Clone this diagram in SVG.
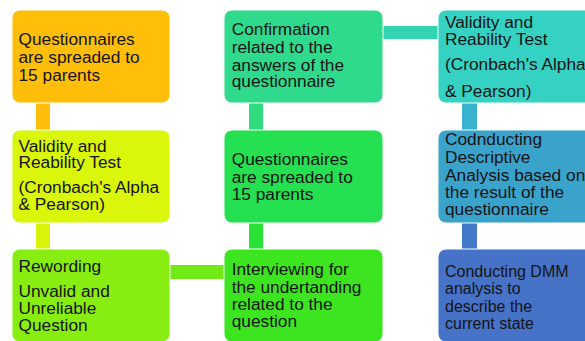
<svg xmlns="http://www.w3.org/2000/svg" width="585" height="341" viewBox="0 0 585 341">
<style>
.box{stroke:#f4fff4;stroke-width:1}
text{font-family:"Liberation Sans",Arial,sans-serif;font-size:17.3px;fill:#141414}
</style>
<rect width="585" height="341" fill="#ffffff"/>
<g id="connectors">
<rect x="36" y="102" width="14" height="29" fill="#FDBE0C"/>
<rect x="36" y="222" width="14" height="28" fill="#D9F40A"/>
<rect x="170" y="265" width="54" height="14" fill="#72EA16"/>
<rect x="249" y="102" width="14" height="29" fill="#30DC7E"/>
<rect x="249" y="222" width="14" height="28" fill="#2BE236"/>
<rect x="383" y="26" width="56" height="13" fill="#33D4B2"/>
<rect x="462" y="102" width="15" height="29" fill="#39B2CF"/>
<rect x="462" y="222" width="15" height="28" fill="#4479CA"/>
</g>
<g id="n1">
<rect class="box" x="12" y="10" width="158" height="93" rx="8" fill="#FEBE0A"/>
<text x="18.5" y="44.5">Questionnaires</text>
<text x="18.5" y="62.7">are spreaded to</text>
<text x="18.5" y="80.8">15 parents</text>
</g>
<g id="n2">
<rect class="box" x="12" y="130" width="158" height="93" rx="8" fill="#DAF60A"/>
<text x="18.5" y="151.7">Validity and</text>
<text x="18.5" y="168.3">Reability Test</text>
<text x="18.5" y="193.3">(Cronbach's Alpha</text>
<text x="18.5" y="210">&amp; Pearson)</text>
</g>
<g id="n3">
<rect class="box" x="12" y="249" width="158" height="93" rx="8" fill="#88EE12"/>
<text x="18.5" y="271.7">Rewording</text>
<text x="18.5" y="296.7">Unvalid and</text>
<text x="18.5" y="314.3">Unreliable</text>
<text x="18.5" y="331">Question</text>
</g>
<g id="n4">
<rect class="box" x="224" y="10" width="159" height="93" rx="8" fill="#30DA8C"/>
<text x="231.7" y="35">Confirmation</text>
<text x="231.7" y="52.7">related to the</text>
<text x="231.7" y="70.7">answers of the</text>
<text x="231.7" y="87.3">questionnaire</text>
</g>
<g id="n5">
<rect class="box" x="224" y="130" width="159" height="93" rx="8" fill="#25E050"/>
<text x="231.7" y="165">Questionnaires</text>
<text x="231.7" y="182.7">are spreaded to</text>
<text x="231.7" y="200">15 parents</text>
</g>
<g id="n6">
<rect class="box" x="224" y="249" width="159" height="93" rx="8" fill="#3CE51F"/>
<text x="231.7" y="275">Interviewing for</text>
<text x="231.7" y="293.3">the undertanding</text>
<text x="231.7" y="310">related to the</text>
<text x="231.7" y="326.7">question</text>
</g>
<g id="n7">
<rect class="box" x="438" y="10" width="159" height="93" rx="8" fill="#35D1C2"/>
<text x="445" y="28.3">Validity and</text>
<text x="445" y="45">Reability Test</text>
<text x="445" y="70">(Cronbach's Alpha</text>
<text x="445" y="96.7">&amp; Pearson)</text>
</g>
<g id="n8">
<rect class="box" x="438" y="130" width="159" height="93" rx="8" fill="#3AA3CC"/>
<text x="445" y="145">Codnducting</text>
<text x="445" y="162.7">Descriptive</text>
<text x="445" y="180.7">Analysis based on</text>
<text x="445" y="198.3">the result of the</text>
<text x="445" y="215">questionnaire</text>
</g>
<g id="n9">
<rect class="box" x="438" y="249" width="159" height="93" rx="8" fill="#4672C8"/>
<g transform="translate(445,0) scale(0.925,1)">
<text x="0" y="276.7">Conducting DMM</text>
<text x="0" y="294.3">analysis to</text>
<text x="0" y="312.3">describe the</text>
<text x="0" y="329.3">current state</text>
</g>
</g>
</svg>
